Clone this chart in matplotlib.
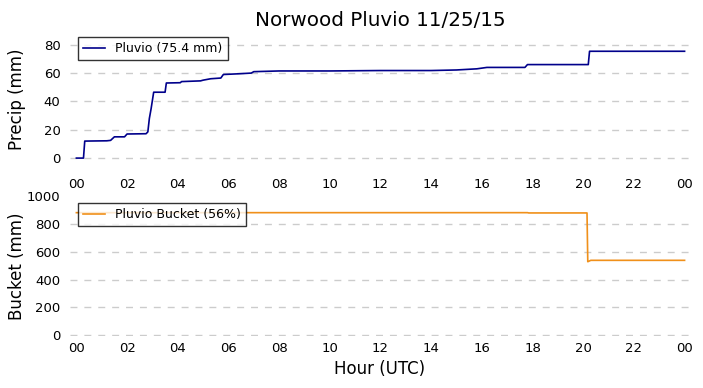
import matplotlib
matplotlib.use("Agg")
import matplotlib.pyplot as plt

# Time (hours UTC) and accumulated precip (mm)
precip_hours = [0.0, 0.28, 0.33, 1.2, 1.35, 1.5, 1.9, 2.0, 2.75, 2.82, 2.88, 2.95, 3.05, 3.5, 3.55,
                4.1, 4.15, 4.9, 5.0, 5.3, 5.7, 5.8, 6.4, 6.9, 7.0, 8.0, 10.0, 12.0, 14.0, 15.0,
                15.8, 16.0, 16.2, 17.7, 17.8, 20.2, 20.25, 24.0]
precip_mm = [0.0, 0.0, 12.0, 12.2, 12.5, 15.0, 15.0, 17.0, 17.2, 18.5, 28.0, 35.0, 46.5, 46.5, 53.0,
             53.2, 54.0, 54.5, 55.0, 56.0, 56.5, 59.0, 59.5, 60.0, 61.0, 61.5, 61.5, 61.8, 61.8, 62.2,
             63.0, 63.5, 64.0, 64.0, 66.0, 66.0, 75.4, 75.4]

bucket_hours = [0.0, 17.8, 17.85, 20.15, 20.18, 20.3, 24.0]
bucket_mm = [880, 880, 878, 878, 528, 538, 538]

hour_ticks = [0, 2, 4, 6, 8, 10, 12, 14, 16, 18, 20, 22, 24]
hour_labels = ["00", "02", "04", "06", "08", "10", "12", "14", "16", "18", "20", "22", "00"]

fig = plt.figure(figsize=(7.03, 3.88), dpi=100)
ax1 = fig.add_axes([0.1, 0.567, 0.881, 0.356])
ax2 = fig.add_axes([0.1, 0.134, 0.881, 0.361])

ax1.plot(precip_hours, precip_mm, color="#00008B", lw=1.2, label="Pluvio (75.4 mm)")
ax2.plot(bucket_hours, bucket_mm, color="#F0901A", lw=1.2, label="Pluvio Bucket (56%)")

for ax in (ax1, ax2):
    ax.set_xlim(-0.24, 24.2)
    ax.set_xticks(hour_ticks)
    ax.set_xticklabels(hour_labels)
    for s in ax.spines.values():
        s.set_visible(False)
    ax.tick_params(length=0, labelsize=9.5, pad=7)
    ax.grid(axis="y", color="#cccccc", linestyle=(0, (5, 5)), lw=1)
    ax.set_axisbelow(True)
    leg = ax.legend(loc="upper left", fancybox=False, fontsize=9, borderaxespad=0.6,
                    handlelength=1.8)
    leg.get_frame().set_edgecolor("black")
    leg.get_frame().set_linewidth(1.0)

ax1.set_ylim(-7, 90.5)
ax1.set_yticks([0, 20, 40, 60, 80])
ax2.set_ylim(-5, 1000)
ax2.set_yticks([0, 200, 400, 600, 800, 1000])
ax2.tick_params(axis="x", pad=4)
ax2.yaxis.get_gridlines()[-1].set_visible(False)

ax1.set_ylabel("Precip (mm)", fontsize=12)
ax2.set_ylabel("Bucket (mm)", fontsize=12)
ax1.yaxis.set_label_coords(-0.071, 0.5)
ax2.yaxis.set_label_coords(-0.071, 0.5)
ax2.set_xlabel("Hour (UTC)", fontsize=12)
ax1.set_title("Norwood Pluvio 11/25/15", fontsize=14.3, pad=2)

fig.savefig("out.png", dpi=100)
